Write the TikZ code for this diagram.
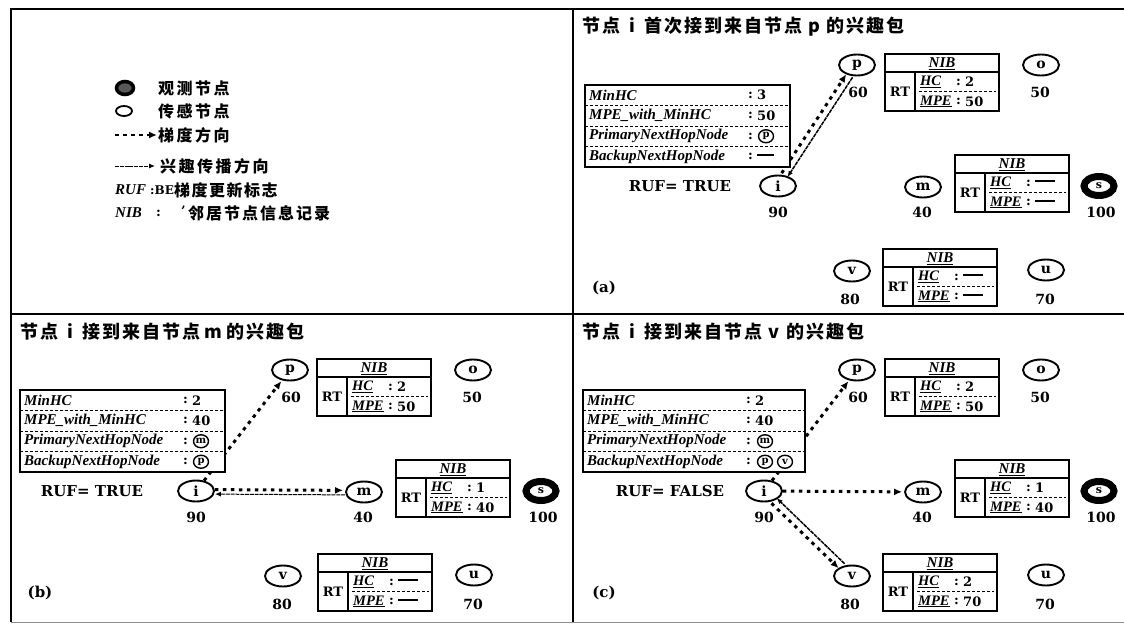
\documentclass[tikz,border=0pt]{standalone}
\usepackage{fontspec}
\setmainfont{DejaVu Serif}
\newfontfamily\tms{Liberation Serif}
\newfontfamily\cjk{Noto Sans CJK SC}
\usetikzlibrary{shapes.geometric,arrows.meta}
\newcommand\spcgap{2pt}
\newcommand\spc[1]{\ifx#1\relax\else#1\hskip\spcgap\expandafter\spc\fi}
\newcommand\FWi{\makebox[20pt]{i}}
\newcommand\FWp{\makebox[20pt]{p}}
\newcommand\FWm{\makebox[22pt]{m}}
\newcommand\FWv{\makebox[20pt]{v}}
\newcommand\nodash[1]{\rule[3.6pt]{#1}{1.6pt}}
\tikzset{
  nd/.style={ellipse, draw, line width=1.9pt, minimum width=36pt, minimum height=21pt, inner sep=0pt, font=\fontsize{14}{14}\selectfont\bfseries},
  snd/.style={ellipse, draw, fill=white, line width=7pt, minimum width=30pt, minimum height=19pt, inner sep=0pt, font=\fontsize{11}{11}\selectfont\bfseries},
  num/.style={inner sep=0pt, font=\fontsize{14}{14}\selectfont\bfseries},
  txt/.style={inner sep=0pt, font=\fontsize{15}{15}\selectfont\bfseries},
  ttl/.style={anchor=west, inner sep=0pt, font=\cjk\bfseries\fontsize{18}{18}\selectfont},
  lgt/.style={anchor=west, inner sep=0pt, font=\cjk\bfseries\fontsize{16}{16}\selectfont},
  tbl/.style={line width=1.3pt},
  tbld/.style={line width=1pt, dash pattern=on 3pt off 2pt},
  lbl/.style={anchor=west, inner sep=0pt, font=\tms\fontsize{15}{15}\selectfont\bfseries\itshape},
  nlbl/.style={anchor=west, inner sep=0pt, font=\tms\fontsize{14.5}{14.5}\selectfont\bfseries\itshape},
  val/.style={anchor=west, inner sep=0pt, font=\fontsize{13}{13}\selectfont\bfseries},
  cv/.style={ellipse, draw, line width=1.4pt, minimum width=15pt, minimum height=13pt, inner sep=0pt, font=\fontsize{10}{10}\selectfont\bfseries},
  grad/.style={line width=3pt, dash pattern=on 3.5pt off 4.5pt, -{Latex[length=8pt,width=7pt]}},
  intr/.style={line width=1.5pt, dash pattern=on 4pt off 0.8pt, -{Latex[length=6pt,width=5pt]}},
}
% MinHC table: x y width prefix
\newcommand\MinTab[4]{%
  \begin{scope}[shift={(#1,#2)}]
    \fill[white] (0,0) rectangle (#3,82);
    \draw[tbld] (0,20.5) -- (#3,20.5) (0,41) -- (#3,41) (0,61.5) -- (#3,61.5);
    \draw[tbl] (0,0) rectangle (#3,82);
    \node[lbl] (#4l1) at (4,10.25) {MinHC};
    \node[lbl] (#4l2) at (4,30.75) {MPE\_with\_MinHC};
    \node[lbl] (#4l3) at (4,51.25) {PrimaryNextHopNode};
    \node[lbl] (#4l4) at (4,71.75) {BackupNextHopNode};
    \node[val] (#4c1) at (163,10.25) {:};
    \node[val] (#4c2) at (163,30.75) {:};
    \node[val] (#4c3) at (163,51.25) {:};
    \node[val] (#4c4) at (163,71.75) {:};
  \end{scope}}
% NIB table: x y hc mpe prefix
\newcommand\NIBtab[5]{%
  \begin{scope}[shift={(#1,#2)}]
    \fill[white] (0,0) rectangle (114,57);
    \draw[tbld] (34,37.5) -- (111,37.5);
    \draw[tbl] (0,0) rectangle (114,57);
    \draw[tbl] (0,18) -- (114,18) (30,18) -- (30,57);
    \node[inner sep=0pt, font=\tms\fontsize{15}{15}\selectfont\bfseries\itshape] (#5h) at (57,9.5) {\underline{NIB}};
    \node[inner sep=0pt, font=\fontsize{13}{13}\selectfont\bfseries] (#5r) at (15,37.5) {RT};
    \node[nlbl] (#5a) at (35,28) {\underline{HC}};
    \node[val] (#5b) at (71,28) {:};
    \node[val] (#5c) at (80,28) {#3};
    \node[nlbl] (#5d) at (35,47.5) {\underline{MPE}};
    \node[val] (#5e) at (71,47.5) {:};
    \node[val] (#5f) at (80,47.5) {#4};
  \end{scope}}
\begin{document}
\begin{tikzpicture}[x=1pt,y=-1pt]
\useasboundingbox (0,0) rectangle (1124,626);
% frame
\draw[line width=1.6pt] (11,622) -- (11,9) -- (1124,9);
\draw[line width=1.6pt] (573,9) -- (573,622);
\draw[line width=1.6pt] (11,314) -- (1124,314);
\draw[line width=1pt, black!45] (11,622) -- (1124,622);

% ---------------- legend
\node[draw, ellipse, line width=3.5pt, fill=black!65, minimum width=17pt, minimum height=13pt, inner sep=0pt] (lgo) at (125,88) {};
\node[lgt] (lgot) at (158,88) {\def\spcgap{2.5pt}\spc 观测节点\relax};
\node[draw, ellipse, line width=1.8pt, minimum width=16pt, minimum height=10pt, inner sep=0pt] (lgs) at (124,111) {};
\node[lgt] (lgst) at (158,111) {\def\spcgap{2.5pt}\spc 传感节点\relax};
\coordinate (lg1a) at (115,135);
\coordinate (lg1b) at (157,135);
\draw[grad, line width=2.6pt] (lg1a) -- (lg1b);
\node[lgt] (lggt) at (158,135) {\def\spcgap{2.5pt}\spc 梯度方向\relax};
\coordinate (lg2a) at (115,166);
\coordinate (lg2b) at (155,166);
\draw[intr, line width=1pt] (lg2a) -- (lg2b);
\node[lgt] (lgit) at (160,166) {\def\spcgap{2.5pt}\spc 兴趣传播方向\relax};
\node[anchor=west, inner sep=0pt, font=\tms\fontsize{15}{15}\selectfont\bfseries\itshape] (lgr) at (115,190) {RUF};
\node[anchor=west, inner sep=0pt, font=\fontsize{12}{12}\selectfont\bfseries] (lgrb) at (150,190) {:BE};
\node[lgt] (lgrt) at (174,190) {\def\spcgap{1.5pt}\spc 梯度更新标志\relax};
\node[anchor=west, inner sep=0pt, font=\tms\fontsize{15}{15}\selectfont\bfseries\itshape] (lgn) at (115,213) {NIB};
\node[val] (lgnc) at (156,213) {:};
\node[val] (lgna) at (181,211) {'};
\node[lgt] (lgnt) at (188,213) {\def\spcgap{2pt}\spc 邻居节点信息记录\relax};

% ---------------- panel (a)
\node[ttl] (tta) at (582,27) {\spc 节点\FWi 首次接到来自节点\FWp 的兴趣包\relax};
\node[nd] (pa) at (857,65) {p};
\node[num] (npa) at (858,92) {60};
\node[nd] (oa) at (1041,65) {o};
\node[num] (noa) at (1040,92) {50};
\node[txt] (rufa) at (680,186) {RUF= TRUE};
\node[nd] (ia) at (778,186) {i};
\node[num] (nia) at (778,212) {90};
\node[nd] (ma) at (923,187) {m};
\node[num] (nma) at (922,212) {40};
\node[snd] (sa) at (1099,186) {s};
\node[num] (nsa) at (1101,212) {100};
\node[nd] (va) at (852,271) {v};
\node[num] (nva) at (850,299) {80};
\node[nd] (ua) at (1046,270) {u};
\node[num] (nua) at (1045,299) {70};
\node[txt] (laba) at (604,288) {(a)};
\draw[grad, shorten >=1pt, transform canvas={shift={(-3.3,-2.2)}}] (ia) -- (pa);
\draw[intr, transform canvas={shift={(2.5,1.7)}}] (pa) -- (ia);
\NIBtab{885}{54}{2}{50}{nbpa}
\NIBtab{955}{155}{\nodash{20pt}}{\nodash{20pt}}{nbma}
\NIBtab{883}{249}{\nodash{20pt}}{\nodash{20pt}}{nbva}
\MinTab{585}{85}{205}{ta}
\node[val] (ta1) at (757,95.25) {3};
\node[val] (ta2) at (757,115.75) {50};
\node[cv] (ta3) at (766,136.25) {p};
\node[val] (ta4) at (757,156.75) {\nodash{17pt}};

% ---------------- panel (b)
\node[ttl] (ttb) at (20,332) {\spc 节点\FWi 接到来自节点\FWm 的兴趣包\relax};
\node[nd] (pb) at (290,370) {p};
\node[num] (npb) at (291,397) {60};
\node[nd] (ob) at (473,370) {o};
\node[num] (nob) at (472,397) {50};
\node[txt] (rufb) at (92,491) {RUF= TRUE};
\node[nd] (ib) at (196,491) {i};
\node[num] (nib) at (196,517) {90};
\node[nd] (mb) at (364,492) {m};
\node[num] (nmb) at (363,517) {40};
\node[snd] (sb) at (541,491) {s};
\node[num] (nsb) at (543,517) {100};
\node[nd] (vb) at (283,576) {v};
\node[num] (nvb) at (282,604) {80};
\node[nd] (ub) at (474,575) {u};
\node[num] (nub) at (473,604) {70};
\node[txt] (labb) at (40,593) {(b)};
\draw[grad, shorten >=1pt] (ib) -- (pb);
\draw[grad, shorten >=2pt, transform canvas={shift={(0,-1.5)}}] (ib) -- (mb);
\draw[intr, line width=1pt, transform canvas={shift={(0,3)}}] (mb) -- (ib);
\NIBtab{317}{359}{2}{50}{nbpb}
\NIBtab{396}{460}{1}{40}{nbmb}
\NIBtab{318}{554}{\nodash{20pt}}{\nodash{20pt}}{nbvb}
\MinTab{20}{390}{205}{tb}
\node[val] (tb1) at (192,400.25) {2};
\node[val] (tb2) at (192,420.75) {40};
\node[cv] (tb3) at (201,441.25) {m};
\node[cv] (tb4) at (201,461.75) {p};

% ---------------- panel (c)
\node[ttl] (ttc) at (582,332) {\spc 节点\FWi 接到来自节点\FWv 的兴趣包\relax};
\node[nd] (pc) at (857,370) {p};
\node[num] (npc) at (858,397) {60};
\node[nd] (oc) at (1041,370) {o};
\node[num] (noc) at (1040,397) {50};
\node[txt] (rufc) at (670,491) {RUF= FALSE};
\node[nd] (ic) at (764,491) {i};
\node[num] (nic) at (764,517) {90};
\node[nd] (mc) at (923,492) {m};
\node[num] (nmc) at (922,517) {40};
\node[snd] (sc) at (1099,491) {s};
\node[num] (nsc) at (1101,517) {100};
\node[nd] (vc) at (852,576) {v};
\node[num] (nvc) at (850,604) {80};
\node[nd] (uc) at (1046,575) {u};
\node[num] (nuc) at (1045,604) {70};
\node[txt] (labc) at (604,593) {(c)};
\draw[grad, shorten >=1pt] (ic) -- (pc);
\draw[grad, shorten >=2pt] (ic) -- (mc);
\draw[grad, shorten >=1pt, transform canvas={shift={(-2.6,2.6)}}] (ic) -- (vc);
\draw[intr, transform canvas={shift={(2.6,-2.6)}}] (vc) -- (ic);
\NIBtab{885}{359}{2}{50}{nbpc}
\NIBtab{955}{460}{1}{40}{nbmc}
\NIBtab{883}{554}{2}{70}{nbvc}
\MinTab{583}{390}{222}{tc}
\node[val] (tc1) at (755,400.25) {2};
\node[val] (tc2) at (755,420.75) {40};
\node[cv] (tc3) at (765,441.25) {m};
\node[cv] (tc4) at (765,461.75) {p};
\node[cv] (tc5) at (785,461.75) {v};
\end{tikzpicture}
\end{document}
